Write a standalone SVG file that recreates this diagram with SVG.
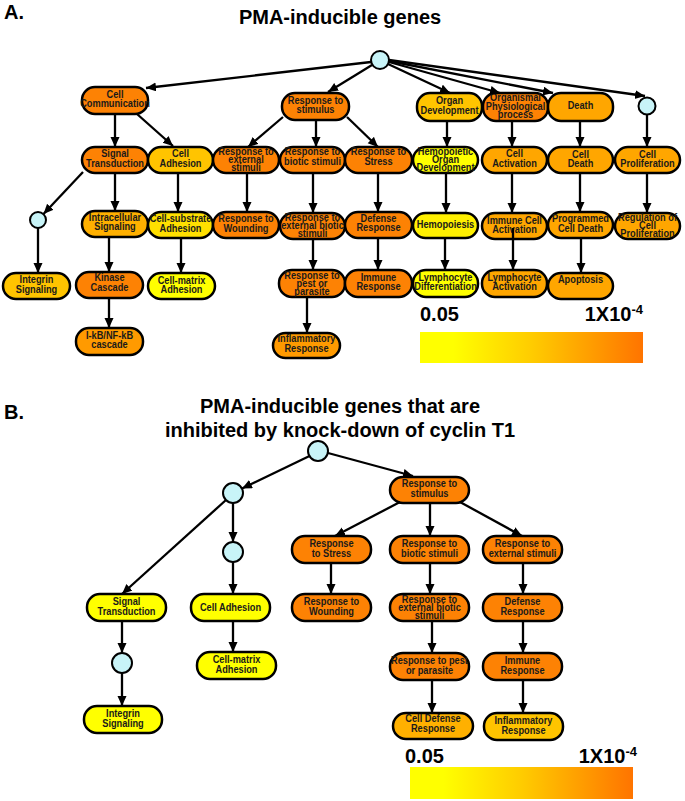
<svg xmlns="http://www.w3.org/2000/svg" width="685" height="801" viewBox="0 0 685 801">
<style>
.n rect{stroke:#000;stroke-width:2.5}
.c{fill:#c8f4f8;stroke:#000;stroke-width:2}
.t{font-family:"Liberation Sans",Arial,sans-serif;font-weight:bold;font-size:10.5px;text-anchor:middle;fill:#1a1a1a}
.h{font-family:"Liberation Sans",Arial,sans-serif;font-weight:bold;fill:#000}
.e line{stroke:#000;stroke-width:2.3;marker-end:url(#ah)}
.O{fill:#fd8204}.L{fill:#ffa600}.G{fill:#ffc400}.Y{fill:#ffff00}.Y2{fill:#fff000}.S{fill:#ffdf00}.I{fill:#ffb000}.M{fill:#ff9a00}
</style>
<defs>
<marker id="ah" markerUnits="userSpaceOnUse" markerWidth="10" markerHeight="10" refX="10" refY="4.5" orient="auto"><path d="M0,0 L10,4.5 L0,9 z" fill="#000"/></marker>
<linearGradient id="grad" x1="0" x2="1" y1="0" y2="0">
<stop offset="0" stop-color="#ffff00"/><stop offset="0.15" stop-color="#ffff00"/><stop offset="0.5" stop-color="#ffcc00"/><stop offset="1" stop-color="#ff7400"/>
</linearGradient>
</defs>

<text class="h" x="4" y="19" font-size="20">A.</text>
<text class="h" x="340" y="24" font-size="20" text-anchor="middle">PMA-inducible genes</text>

<!-- Section A nodes -->
<g id="a-root"><circle class="c" cx="380" cy="60" r="9"/></g>
<g id="a-cellcomm" class="n"><rect class="O" x="82" y="87" width="66" height="27" rx="13"/><text class="t" transform="translate(115,0) scale(0.88,1)"><tspan x="0" y="98">Cell</tspan><tspan x="0" y="107.5">Communication</tspan></text></g>
<g id="a-respstim" class="n"><rect class="O" x="282" y="93" width="67" height="27" rx="13"/><text class="t" transform="translate(315.5,0) scale(0.88,1)"><tspan x="0" y="104">Response to</tspan><tspan x="0" y="113.5">stimulus</tspan></text></g>
<g id="a-organdev" class="n"><rect class="G" x="417" y="93" width="65" height="28" rx="13"/><text class="t" transform="translate(449.5,0) scale(0.88,1)"><tspan x="0" y="104.5">Organ</tspan><tspan x="0" y="114">Development</tspan></text></g>
<g id="a-organismal" class="n"><rect class="O" x="483" y="93" width="65" height="28" rx="13"/><text class="t" transform="translate(515.5,0) scale(0.88,1)"><tspan x="0" y="101.5">Organismal</tspan><tspan x="0" y="110">Physiological</tspan><tspan x="0" y="118.5">process</tspan></text></g>
<g id="a-death" class="n"><rect class="L" x="548" y="93" width="65" height="28" rx="13"/><text class="t" transform="translate(580.5,0) scale(0.88,1)"><tspan x="0" y="109.5">Death</tspan></text></g>
<g id="a-circ1"><circle class="c" cx="647" cy="106" r="8.5"/></g>

<g id="a-signal" class="n"><rect class="O" x="82" y="147" width="66" height="26" rx="13"/><text class="t" transform="translate(115,0) scale(0.88,1)"><tspan x="0" y="157.5">Signal</tspan><tspan x="0" y="167">Transduction</tspan></text></g>
<g id="a-celladh" class="n"><rect class="G" x="148" y="147" width="65" height="26" rx="13"/><text class="t" transform="translate(180.5,0) scale(0.88,1)"><tspan x="0" y="157.5">Cell</tspan><tspan x="0" y="167">Adhesion</tspan></text></g>
<g id="a-respext" class="n"><rect class="O" x="213" y="147" width="66" height="26" rx="13"/><text class="t" transform="translate(246,0) scale(0.88,1)"><tspan x="0" y="154.6">Response to</tspan><tspan x="0" y="163">external</tspan><tspan x="0" y="171.5">stimuli</tspan></text></g>
<g id="a-respbiotic" class="n"><rect class="O" x="280" y="147" width="65" height="26" rx="13"/><text class="t" transform="translate(312.5,0) scale(0.88,1)"><tspan x="0" y="155.5">Response to</tspan><tspan x="0" y="165.5">biotic stimuli</tspan></text></g>
<g id="a-respstress" class="n"><rect class="O" x="345" y="147" width="67" height="26" rx="13"/><text class="t" transform="translate(378.5,0) scale(0.88,1)"><tspan x="0" y="155.5">Response to</tspan><tspan x="0" y="165.5">Stress</tspan></text></g>
<g id="a-hemoorgan" class="n"><rect class="Y" x="413" y="147" width="65" height="26" rx="13"/><text class="t" transform="translate(445.5,0) scale(0.88,1)"><tspan x="0" y="154.6">Hemopoietic</tspan><tspan x="0" y="163">Organ</tspan><tspan x="0" y="171.5">Development</tspan></text></g>
<g id="a-cellact" class="n"><rect class="L" x="482" y="147" width="65" height="26" rx="13"/><text class="t" transform="translate(514.5,0) scale(0.88,1)"><tspan x="0" y="157.5">Cell</tspan><tspan x="0" y="167">Activation</tspan></text></g>
<g id="a-celldeath" class="n"><rect class="L" x="548" y="147" width="65" height="26" rx="13"/><text class="t" transform="translate(580.5,0) scale(0.88,1)"><tspan x="0" y="158">Cell</tspan><tspan x="0" y="167.5">Death</tspan></text></g>
<g id="a-cellprolif" class="n"><rect class="L" x="615" y="147" width="65" height="26" rx="13"/><text class="t" transform="translate(647.5,0) scale(0.88,1)"><tspan x="0" y="158">Cell</tspan><tspan x="0" y="167.5">Proliferation</tspan></text></g>

<g id="a-circ2"><circle class="c" cx="38" cy="220" r="8"/></g>
<g id="a-intra" class="n"><rect class="I" x="82" y="211" width="66" height="26" rx="13"/><text class="t" transform="translate(115,0) scale(0.88,1)"><tspan x="0" y="221">Intracellular</tspan><tspan x="0" y="230.5">Signaling</tspan></text></g>
<g id="a-cellsub" class="n"><rect class="S" x="148" y="212" width="65" height="26" rx="13"/><text class="t" transform="translate(180.5,0) scale(0.88,1)"><tspan x="0" y="222.5">Cell-substrate</tspan><tspan x="0" y="232">Adhesion</tspan></text></g>
<g id="a-wound" class="n"><rect class="O" x="213" y="212" width="66" height="26" rx="13"/><text class="t" transform="translate(246,0) scale(0.88,1)"><tspan x="0" y="222.5">Response to</tspan><tspan x="0" y="232">Wounding</tspan></text></g>
<g id="a-extbiotic" class="n"><rect class="O" x="280" y="213" width="65" height="26" rx="13"/><text class="t" transform="translate(312.5,0) scale(0.88,1)"><tspan x="0" y="220.6">Response to</tspan><tspan x="0" y="229">external biotic</tspan><tspan x="0" y="237.5">stimuli</tspan></text></g>
<g id="a-defense" class="n"><rect class="O" x="345" y="212" width="67" height="26" rx="13"/><text class="t" transform="translate(378.5,0) scale(0.88,1)"><tspan x="0" y="222">Defense</tspan><tspan x="0" y="231.5">Response</tspan></text></g>
<g id="a-hemopoiesis" class="n"><rect class="Y2" x="413" y="213" width="65" height="25" rx="12.5"/><text class="t" transform="translate(445.5,0) scale(0.88,1)"><tspan x="0" y="228.5">Hemopoiesis</tspan></text></g>
<g id="a-immcellact" class="n"><rect class="L" x="482" y="213" width="65" height="26" rx="13"/><text class="t" transform="translate(514.5,0) scale(0.88,1)"><tspan x="0" y="224">Immune Cell</tspan><tspan x="0" y="233.5">Activation</tspan></text></g>
<g id="a-progdeath" class="n"><rect class="L" x="548" y="212" width="65" height="26" rx="13"/><text class="t" transform="translate(580.5,0) scale(0.88,1)"><tspan x="0" y="222.5">Programmed</tspan><tspan x="0" y="232">Cell Death</tspan></text></g>
<g id="a-regprolif" class="n"><rect class="L" x="615" y="213" width="65" height="26" rx="13"/><text class="t" transform="translate(647.5,0) scale(0.88,1)"><tspan x="0" y="220.6">Regulation of</tspan><tspan x="0" y="229">Cell</tspan><tspan x="0" y="237.5">Proliferation</tspan></text></g>

<g id="a-integrin" class="n"><rect class="G" x="3" y="273" width="67" height="26" rx="13"/><text class="t" transform="translate(36.5,0) scale(0.88,1)"><tspan x="0" y="283.5">Integrin</tspan><tspan x="0" y="293">Signaling</tspan></text></g>
<g id="a-kinase" class="n"><rect class="O" x="76" y="272" width="67" height="26" rx="13"/><text class="t" transform="translate(109.5,0) scale(0.88,1)"><tspan x="0" y="281.5">Kinase</tspan><tspan x="0" y="291">Cascade</tspan></text></g>
<g id="a-cellmatrix" class="n"><rect class="Y" x="148" y="273" width="67" height="26" rx="13"/><text class="t" transform="translate(181.5,0) scale(0.88,1)"><tspan x="0" y="284">Cell-matrix</tspan><tspan x="0" y="293.5">Adhesion</tspan></text></g>
<g id="a-pest" class="n"><rect class="O" x="279" y="270" width="66" height="27" rx="13"/><text class="t" transform="translate(312,0) scale(0.88,1)"><tspan x="0" y="278.6">Response to</tspan><tspan x="0" y="287">pest or</tspan><tspan x="0" y="295.5">parasite</tspan></text></g>
<g id="a-immune" class="n"><rect class="O" x="345" y="270" width="67" height="27" rx="13"/><text class="t" transform="translate(378.5,0) scale(0.88,1)"><tspan x="0" y="281">Immune</tspan><tspan x="0" y="290.5">Response</tspan></text></g>
<g id="a-lymphdiff" class="n"><rect class="Y" x="413" y="270" width="65" height="27" rx="13"/><text class="t" transform="translate(445.5,0) scale(0.88,1)"><tspan x="0" y="281">Lymphocyte</tspan><tspan x="0" y="290.5">Differentiation</tspan></text></g>
<g id="a-lymphact" class="n"><rect class="L" x="482" y="270" width="65" height="27" rx="13"/><text class="t" transform="translate(514.5,0) scale(0.88,1)"><tspan x="0" y="281">Lymphocyte</tspan><tspan x="0" y="290.5">Activation</tspan></text></g>
<g id="a-apoptosis" class="n"><rect class="L" x="548" y="273" width="65" height="26" rx="13"/><text class="t" transform="translate(580.5,0) scale(0.88,1)"><tspan x="0" y="283.5">Apoptosis</tspan></text></g>

<g id="a-ikb" class="n"><rect class="M" x="76" y="328" width="67" height="27" rx="13"/><text class="t" transform="translate(109.5,0) scale(0.88,1)"><tspan x="0" y="339">I-kB/NF-kB</tspan><tspan x="0" y="348.5">cascade</tspan></text></g>
<g id="a-inflam" class="n"><rect class="M" x="273" y="333" width="67" height="25" rx="12.5"/><text class="t" transform="translate(306.5,0) scale(0.88,1)"><tspan x="0" y="342.5">Inflammatory</tspan><tspan x="0" y="352">Response</tspan></text></g>

<g id="a-legend">
<text class="h" x="420" y="321" font-size="20">0.05</text>
<text class="h" x="643" y="321" font-size="20" text-anchor="end">1X10<tspan font-size="13" dy="-7">-4</tspan></text>
<rect x="420" y="332" width="223" height="31" fill="url(#grad)"/>
</g>

<!-- Section B -->
<text class="h" x="4" y="419" font-size="20">B.</text>
<text class="h" x="340" y="413" font-size="20" text-anchor="middle">PMA-inducible genes that are</text>
<text class="h" x="340" y="437" font-size="20" text-anchor="middle">inhibited by knock-down of cyclin T1</text>

<g id="b-root"><circle class="c" cx="318" cy="451" r="10"/></g>
<g id="b-circ1"><circle class="c" cx="233" cy="493" r="10"/></g>
<g id="b-circ2"><circle class="c" cx="233" cy="552" r="10"/></g>
<g id="b-circ3"><circle class="c" cx="122" cy="663" r="10"/></g>
<g id="b-signal" class="n"><rect class="Y" x="87" y="594" width="79" height="27" rx="13"/><text class="t" transform="translate(126.5,0) scale(0.88,1)"><tspan x="0" y="605.5">Signal</tspan><tspan x="0" y="615">Transduction</tspan></text></g>
<g id="b-celladh" class="n"><rect class="Y" x="191" y="594" width="79" height="27" rx="13"/><text class="t" transform="translate(230.5,0) scale(0.88,1)"><tspan x="0" y="611">Cell Adhesion</tspan></text></g>
<g id="b-cellmatrix" class="n"><rect class="Y" x="197" y="652" width="79" height="27" rx="13"/><text class="t" transform="translate(236.5,0) scale(0.88,1)"><tspan x="0" y="663.5">Cell-matrix</tspan><tspan x="0" y="673">Adhesion</tspan></text></g>
<g id="b-integrin" class="n"><rect class="Y" x="84" y="706" width="78" height="27" rx="13"/><text class="t" transform="translate(123,0) scale(0.88,1)"><tspan x="0" y="717.5">Integrin</tspan><tspan x="0" y="727">Signaling</tspan></text></g>
<g id="b-respstim" class="n"><rect class="O" x="390" y="477" width="79" height="26" rx="13"/><text class="t" transform="translate(429.5,0) scale(0.88,1)"><tspan x="0" y="487.5">Response to</tspan><tspan x="0" y="497">stimulus</tspan></text></g>
<g id="b-stress" class="n"><rect class="O" x="292" y="536" width="79" height="27" rx="13"/><text class="t" transform="translate(331.5,0) scale(0.88,1)"><tspan x="0" y="547.5">Response</tspan><tspan x="0" y="557">to Stress</tspan></text></g>
<g id="b-biotic" class="n"><rect class="O" x="390" y="536" width="79" height="27" rx="13"/><text class="t" transform="translate(429.5,0) scale(0.88,1)"><tspan x="0" y="547.5">Response to</tspan><tspan x="0" y="557">biotic stimuli</tspan></text></g>
<g id="b-external" class="n"><rect class="O" x="483" y="536" width="79" height="27" rx="13"/><text class="t" transform="translate(522.5,0) scale(0.88,1)"><tspan x="0" y="547.5">Response to</tspan><tspan x="0" y="557">external stimuli</tspan></text></g>
<g id="b-wound" class="n"><rect class="O" x="292" y="594" width="79" height="27" rx="13"/><text class="t" transform="translate(331.5,0) scale(0.88,1)"><tspan x="0" y="605.5">Response to</tspan><tspan x="0" y="615">Wounding</tspan></text></g>
<g id="b-extbiotic" class="n"><rect class="O" x="390" y="594" width="79" height="27" rx="13"/><text class="t" transform="translate(429.5,0) scale(0.88,1)"><tspan x="0" y="602.6">Response to</tspan><tspan x="0" y="611">external biotic</tspan><tspan x="0" y="619.5">stimuli</tspan></text></g>
<g id="b-defense" class="n"><rect class="O" x="483" y="594" width="79" height="27" rx="13"/><text class="t" transform="translate(522.5,0) scale(0.88,1)"><tspan x="0" y="605.5">Defense</tspan><tspan x="0" y="615">Response</tspan></text></g>
<g id="b-pest" class="n"><rect class="O" x="390" y="653" width="79" height="27" rx="13"/><text class="t" transform="translate(429.5,0) scale(0.88,1)"><tspan x="0" y="664.5">Response to pest</tspan><tspan x="0" y="674">or parasite</tspan></text></g>
<g id="b-immune" class="n"><rect class="O" x="483" y="653" width="79" height="27" rx="13"/><text class="t" transform="translate(522.5,0) scale(0.88,1)"><tspan x="0" y="664.5">Immune</tspan><tspan x="0" y="674">Response</tspan></text></g>
<g id="b-celldef" class="n"><rect class="I" x="393" y="713" width="80" height="26" rx="13"/><text class="t" transform="translate(433,0) scale(0.88,1)"><tspan x="0" y="722.5">Cell Defense</tspan><tspan x="0" y="732">Response</tspan></text></g>
<g id="b-inflam" class="n"><rect class="G" x="484" y="713" width="79" height="27" rx="13"/><text class="t" transform="translate(523.5,0) scale(0.88,1)"><tspan x="0" y="724.5">Inflammatory</tspan><tspan x="0" y="734">Response</tspan></text></g>

<g id="b-legend">
<text class="h" x="405" y="763" font-size="20">0.05</text>
<text class="h" x="637" y="763" font-size="20" text-anchor="end">1X10<tspan font-size="13" dy="-7">-4</tspan></text>
<rect x="410" y="767" width="223" height="32" fill="url(#grad)"/>
</g>

<!-- Connectors -->
<g id="connectors" class="e">
<line x1="371" y1="62" x2="146" y2="88"/>
<line x1="372" y1="65" x2="328" y2="92"/>
<line x1="388" y1="64" x2="450" y2="93"/>
<line x1="389" y1="62" x2="500" y2="93"/>
<line x1="389" y1="61" x2="553" y2="93"/>
<line x1="389" y1="60" x2="645" y2="96"/>
<line x1="115" y1="114" x2="115" y2="147"/>
<line x1="137" y1="114" x2="173" y2="146"/>
<line x1="83" y1="172" x2="43.5" y2="214"/>
<line x1="115" y1="173" x2="115" y2="211"/>
<line x1="178" y1="173" x2="178" y2="212"/>
<line x1="283" y1="117" x2="248" y2="147"/>
<line x1="316" y1="120" x2="316" y2="147"/>
<line x1="347" y1="117" x2="378" y2="147"/>
<line x1="447" y1="121" x2="447" y2="147"/>
<line x1="512" y1="121" x2="512" y2="147"/>
<line x1="580" y1="121" x2="580" y2="147"/>
<line x1="647" y1="114.5" x2="647" y2="147"/>
<line x1="247" y1="173" x2="247" y2="212"/>
<line x1="313" y1="173" x2="313" y2="213"/>
<line x1="378" y1="173" x2="378" y2="212"/>
<line x1="446" y1="173" x2="446" y2="213"/>
<line x1="512" y1="173" x2="512" y2="213"/>
<line x1="580" y1="173" x2="580" y2="212"/>
<line x1="647" y1="173" x2="647" y2="213"/>
<line x1="38" y1="228" x2="38" y2="273"/>
<line x1="109" y1="237" x2="109" y2="272"/>
<line x1="181" y1="238" x2="181" y2="273"/>
<line x1="313" y1="239" x2="313" y2="270"/>
<line x1="378" y1="238" x2="378" y2="270"/>
<line x1="445" y1="238" x2="445" y2="270"/>
<line x1="513" y1="228" x2="513" y2="270"/>
<line x1="581" y1="238" x2="581" y2="273"/>
<line x1="109" y1="298" x2="109" y2="328"/>
<line x1="307" y1="297" x2="307" y2="333"/>

<line x1="309.5" y1="456" x2="242" y2="488.5"/>
<line x1="328" y1="453" x2="413" y2="476"/>
<line x1="226" y1="500" x2="122" y2="594"/>
<line x1="233" y1="503" x2="233" y2="542"/>
<line x1="233" y1="562" x2="233" y2="594"/>
<line x1="233" y1="621" x2="233" y2="652"/>
<line x1="122" y1="621" x2="122" y2="653"/>
<line x1="122" y1="673" x2="122" y2="706"/>
<line x1="400" y1="502" x2="335" y2="536"/>
<line x1="430" y1="503" x2="430" y2="536"/>
<line x1="460" y1="502" x2="522" y2="536"/>
<line x1="331" y1="563" x2="331" y2="594"/>
<line x1="430" y1="563" x2="430" y2="594"/>
<line x1="523" y1="563" x2="523" y2="594"/>
<line x1="432" y1="621" x2="432" y2="653"/>
<line x1="432" y1="680" x2="432" y2="713"/>
<line x1="523" y1="621" x2="523" y2="653"/>
<line x1="523" y1="680" x2="523" y2="713"/>
</g>
</svg>
